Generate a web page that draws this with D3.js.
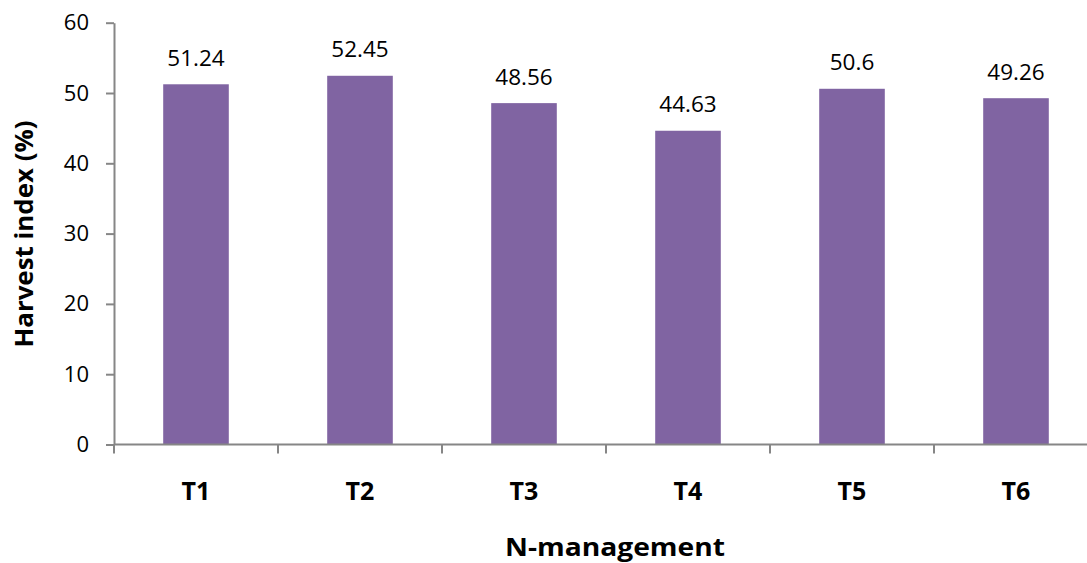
<!DOCTYPE html>
<html>
<head>
<meta charset="utf-8">
<script src="https://cdn.jsdelivr.net/npm/d3@7"></script>
<style>
  html, body { margin: 0; padding: 0; background: #fff; }
  svg { display: block; }
</style>
</head>
<body>
<svg id="chart" width="1087" height="563"></svg>
<script>
const categories = ["T1", "T2", "T3", "T4", "T5", "T6"];
const values = [51.24, 52.45, 48.56, 44.63, 50.6, 49.26];
const valueLabels = ["51.24", "52.45", "48.56", "44.63", "50.6", "49.26"];
const yTicks = [0, 10, 20, 30, 40, 50, 60];
const xTitle = "N-management";
const yTitle = "Harvest index (%)";

const svg = d3.select("#chart");
const plotLeft = 114, plotRight = 1098, plotTop = 22.7, plotBottom = 444.5;
const font = "'Open Sans', sans-serif";
const axisColor = "#868686";
const barColor = "#8064A2";

const x = d3.scaleBand().domain(categories).range([plotLeft, plotRight])
  .paddingInner(0.6).paddingOuter(0.3);
const y = d3.scaleLinear().domain([0, 60]).range([plotBottom, plotTop]);

// bars
svg.selectAll("rect.bar").data(categories).join("rect")
  .attr("class", "bar")
  .attr("x", d => x(d))
  .attr("width", x.bandwidth())
  .attr("y", (d, i) => y(values[i]))
  .attr("height", (d, i) => y(0) - y(values[i]))
  .attr("fill", barColor);

// value labels
svg.selectAll("text.val").data(categories).join("text")
  .attr("class", "val")
  .attr("x", d => x(d) + x.bandwidth() / 2)
  .attr("y", (d, i) => y(values[i]) - 18.5)
  .attr("text-anchor", "middle")
  .attr("font-family", font)
  .attr("font-size", 22.5)
  .attr("fill", "#000")
  .text((d, i) => valueLabels[i]);

// y axis
const yAxis = svg.append("g")
  .attr("transform", `translate(${plotLeft},0)`)
  .call(d3.axisLeft(y).tickValues(yTicks).tickSize(8).tickSizeOuter(0).tickPadding(17));
yAxis.select(".domain").attr("stroke", axisColor).attr("stroke-width", 2);
yAxis.selectAll(".tick line").attr("stroke", axisColor).attr("stroke-width", 2);
yAxis.selectAll(".tick text")
  .attr("font-family", font).attr("font-size", 22).attr("fill", "#000");

// x axis
const tickPositions = categories.map(d => x(d) - x.step() * x.paddingInner() / 2);
tickPositions.push(plotRight);
const xAxisG = svg.append("g");
xAxisG.append("line")
  .attr("x1", plotLeft).attr("x2", plotRight)
  .attr("y1", plotBottom).attr("y2", plotBottom)
  .attr("stroke", axisColor).attr("stroke-width", 2);
xAxisG.selectAll("line.xt").data(tickPositions).join("line")
  .attr("class", "xt")
  .attr("x1", d => d).attr("x2", d => d)
  .attr("y1", plotBottom).attr("y2", plotBottom + 9)
  .attr("stroke", axisColor).attr("stroke-width", 2);
xAxisG.selectAll("text.xl").data(categories).join("text")
  .attr("class", "xl")
  .attr("x", d => x(d) + x.bandwidth() / 2)
  .attr("y", 499.5)
  .attr("text-anchor", "middle")
  .attr("font-family", font).attr("font-weight", "bold").attr("font-size", 25)
  .attr("fill", "#000")
  .text(d => d);

// axis titles
svg.append("text")
  .attr("x", 615).attr("y", 556)
  .attr("text-anchor", "middle")
  .attr("font-family", font).attr("font-weight", "bold").attr("font-size", 25)
  .attr("textLength", 220).attr("lengthAdjust", "spacingAndGlyphs")
  .attr("fill", "#000")
  .text(xTitle);

svg.append("text")
  .attr("transform", `translate(33,234) rotate(-90)`)
  .attr("text-anchor", "middle")
  .attr("font-family", font).attr("font-weight", "bold").attr("font-size", 25)
  .attr("textLength", 227).attr("lengthAdjust", "spacingAndGlyphs")
  .attr("fill", "#000")
  .text(yTitle);
</script>
</body>
</html>
